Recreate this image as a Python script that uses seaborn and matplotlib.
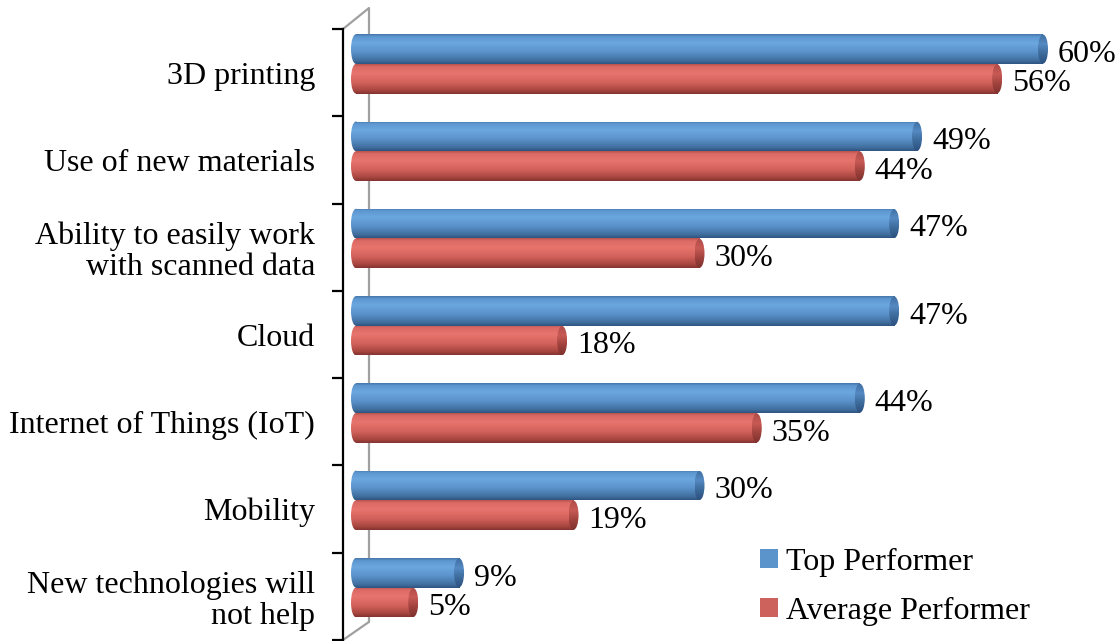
import numpy as np
import pandas as pd
import matplotlib
matplotlib.use("Agg")
import matplotlib.pyplot as plt
from matplotlib.patches import Ellipse, Patch
from matplotlib.colors import LinearSegmentedColormap
import seaborn as sns

# DATA
categories = ["3D printing", "Use of new materials", "Ability to easily work\nwith scanned data",
              "Cloud", "Internet of Things (IoT)", "Mobility", "New technologies will\nnot help"]
top_performer = [60, 49, 47, 47, 44, 30, 9]
average_performer = [56, 44, 30, 18, 35, 19, 5]
series_names = ["Top Performer", "Average Performer"]

df = pd.DataFrame({
    "category": categories * 2,
    "performer": [series_names[0]] * len(categories) + [series_names[1]] * len(categories),
    "value": top_performer + average_performer,
})

# STYLE
sns.set_style("white")
plt.rcParams["font.family"] = ["Liberation Serif", "DejaVu Serif"]
plt.rcParams["text.color"] = "black"
plt.rcParams["ytick.labelcolor"] = "black"
FS = 23

BLUE = "#5B93CB"
RED = "#CD615C"
blue_cmap = LinearSegmentedColormap.from_list("b", [(0, "#4676AB"), (0.08, "#5E97D0"), (0.3, "#6CA7DF"),
                                                    (0.6, "#5B92CB"), (0.88, "#41709F"), (1, "#2F5582")])
red_cmap = LinearSegmentedColormap.from_list("r", [(0, "#B9534F"), (0.08, "#DB6A64"), (0.3, "#E7756E"),
                                                   (0.6, "#D5635D"), (0.88, "#A8463F"), (1, "#853331")])
cap_blue = LinearSegmentedColormap.from_list("cb", ["#3F6FA3", "#5489C2", "#3C6A9A", "#2C5080"])
cap_red = LinearSegmentedColormap.from_list("cr", ["#AE4C48", "#C85A55", "#A0423D", "#7E312E"])

fig = plt.figure(figsize=(11.17, 6.41), dpi=100)
W, H = 1117, 641
# axes box in pixels: spine at x=343, top 29, bottom 640
ax = fig.add_axes([343 / W, 1 - 640 / H, 757 / W, 611 / H])

sns.barplot(data=df, y="category", x="value", hue="performer", palette=[BLUE, RED],
            width=0.68, orient="h", ax=ax, legend=False, saturation=1)

px_per_unit = 11.45
xmin = (343 - 356) / px_per_unit
xmax = xmin + 757 / px_per_unit
cap_w = 10 / px_per_unit
shift = 0.1

grad = np.linspace(0, 1, 64).reshape(-1, 1)

for k, p in enumerate(ax.patches):
    p.set_y(p.get_y() - shift)
    y0 = p.get_y()
    h = p.get_height()
    v = p.get_width()
    is_blue = k < len(categories)
    cmap = blue_cmap if is_blue else red_cmap
    ccmap = cap_blue if is_blue else cap_red
    p.set_facecolor("none")
    p.set_edgecolor("none")
    yc = y0 + h / 2
    # body
    im = ax.imshow(grad, cmap=cmap, aspect="auto", extent=(0, v, y0 + h, y0), origin="upper",
                   zorder=3, interpolation="bilinear")
    im.set_clip_path(p)
    # left rounded end
    le = Ellipse((0, yc), cap_w, h, facecolor="none", edgecolor="none")
    ax.add_patch(le)
    im2 = ax.imshow(grad, cmap=cmap, aspect="auto", extent=(-cap_w / 2, cap_w / 2, y0 + h, y0),
                    origin="upper", zorder=2.9, interpolation="bilinear")
    im2.set_clip_path(le)
    # right end face
    re = Ellipse((v, yc), cap_w, h * 0.98, facecolor="none", edgecolor="none", zorder=4)
    ax.add_patch(re)
    im3 = ax.imshow(grad, cmap=ccmap, aspect="auto", extent=(v - cap_w / 2, v + cap_w / 2, y0 + h, y0),
                    origin="upper", zorder=4, interpolation="bilinear")
    im3.set_clip_path(re)
    # value label
    ax.text(v + cap_w / 2 + 10 / px_per_unit, yc + 0.06, f"{v:.0f}%", va="center", ha="left",
            fontsize=FS, zorder=5)

ax.set_xlim(xmin, xmax)
ax.set_ylim(len(categories) - 0.5, -0.5)

# back wall lines (grey)
wall_x = (369 - 356) / px_per_unit
y_top = -0.5 - 21 / 87.3
y_bot = -0.5 + 593 / 87.3
ax.plot([xmin, wall_x, wall_x], [-0.5, y_top, y_bot], color="#A0A0A0", lw=1.6, clip_on=False, zorder=1)
ax.plot([xmin, wall_x], [len(categories) - 0.5, y_bot], color="#A0A0A0", lw=1.6, clip_on=False, zorder=1)

# axes look
for s in ["top", "right", "bottom"]:
    ax.spines[s].set_visible(False)
ax.spines["left"].set_linewidth(1.6)
ax.spines["left"].set_color("black")
ax.set_xticks([])
ax.set_xlabel("")
ax.set_ylabel("")
ax.set_yticks(range(len(categories)))
ax.set_yticklabels(categories, fontsize=FS, ha="right", multialignment="right")
for lab in ax.get_yticklabels():
    lab.set_linespacing(1.1)
ax.set_yticks(np.arange(-0.5, len(categories), 1), minor=True)
ax.tick_params(axis="y", which="major", length=0, pad=20)
ax.tick_params(axis="y", which="minor", length=8, width=1.6, color="black", direction="out", left=True)

# LEGEND
handles = [Patch(facecolor=BLUE, edgecolor="none"), Patch(facecolor=RED, edgecolor="none")]
fig.legend(handles, series_names, loc="upper left", bbox_to_anchor=(760 / W, 1 - 548 / H),
           frameon=False, fontsize=FS, handlelength=0.55, handleheight=0.55, handletextpad=0.25,
           labelspacing=0.62, borderpad=0, borderaxespad=0)

fig.savefig("out.png", dpi=100)
